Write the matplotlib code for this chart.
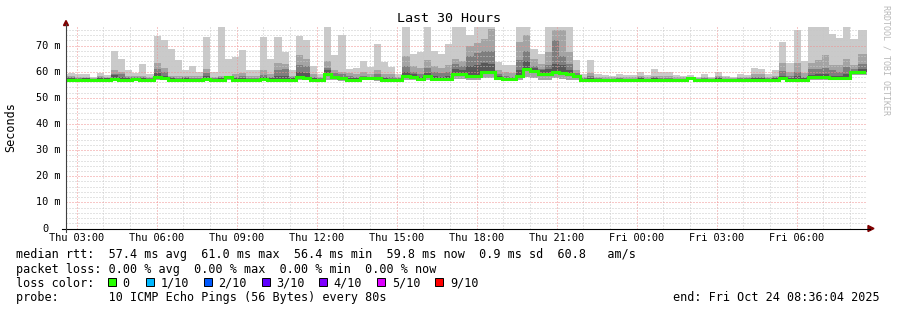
import matplotlib
matplotlib.use("Agg")
import matplotlib.pyplot as plt
from matplotlib.lines import Line2D
from matplotlib.patches import Polygon, Rectangle
import matplotlib.dates as mdates
import numpy as np
import pandas as pd

W, H = 897, 310

# --- data: 16-minute smokeping bins, values in ms -------------------------
bin_start = pd.date_range("2025-10-23 02:25", periods=114, freq="16min")

rtt_max = [
    59.3, 59.5, 59.0, 59.0, 58.0, 59.5, 58.6, 68.1, 65.0, 60.5,
    59.5, 62.8, 59.2, 73.5, 72.3, 68.5, 64.3, 60.5, 62.0, 60.0,
    73.1, 59.8, 77.0, 64.9, 65.8, 68.3, 60.5, 60.8, 73.1, 65.0,
    73.4, 67.6, 60.5, 73.8, 72.2, 62.1, 59.0, 77.0, 66.3, 74.2,
    61.0, 61.5, 64.0, 61.7, 70.6, 63.7, 61.7, 59.2, 77.0, 66.8,
    67.5, 77.0, 68.0, 66.8, 70.6, 77.0, 77.0, 74.0, 77.0, 77.0,
    77.0, 63.7, 62.5, 62.4, 77.0, 77.0, 68.7, 66.8, 77.0, 77.0,
    77.0, 77.0, 64.5, 59.2, 64.3, 59.2, 58.7, 58.5, 59.3, 58.7,
    58.9, 60.0, 58.7, 60.9, 60.0, 60.0, 58.7, 58.4, 58.7, 58.0,
    59.3, 57.8, 60.0, 58.4, 58.0, 59.0, 58.7, 61.3, 60.9, 59.2,
    60.5, 71.4, 63.4, 76.1, 64.0, 77.0, 77.0, 77.0, 74.6, 72.7,
    77.0, 72.5, 75.8, 75.8,
]
rtt_q9 = [
    58.3, 58.3, 58.0, 58.0, 57.6, 58.3, 58.0, 60.8, 60.0, 58.5,
    58.2, 58.5, 58.0, 63.5, 61.5, 58.5, 58.3, 58.5, 58.3, 58.3,
    61.0, 58.0, 58.5, 58.5, 59.0, 59.5, 58.3, 58.3, 60.5, 59.0,
    63.5, 63.0, 58.5, 66.5, 65.0, 59.0, 58.0, 64.0, 60.5, 60.0,
    59.5, 59.0, 60.0, 59.0, 60.5, 59.0, 59.0, 58.0, 66.0, 62.0,
    61.5, 64.5, 62.0, 61.5, 62.5, 65.0, 64.0, 70.0, 71.0, 72.5,
    76.5, 60.5, 60.0, 59.5, 71.5, 74.0, 65.0, 63.0, 67.5, 76.0,
    76.0, 67.5, 60.5, 58.0, 59.5, 58.0, 57.8, 57.8, 58.0, 57.8,
    57.8, 58.5, 57.8, 58.5, 58.3, 58.3, 57.8, 57.8, 58.0, 57.5,
    58.0, 57.5, 58.5, 57.8, 57.5, 58.0, 58.0, 59.0, 59.0, 58.0,
    58.5, 63.5, 60.0, 63.5, 59.5, 63.5, 64.5, 66.5, 62.5, 62.5,
    65.0, 62.5, 66.8, 66.8,
]
rtt_q8 = [
    57.8, 57.8, 57.6, 57.6, 57.3, 57.8, 57.6, 59.3, 59.0, 57.8,
    57.8, 57.8, 57.6, 61.0, 60.0, 57.8, 57.6, 57.8, 57.6, 57.6,
    59.5, 57.6, 57.8, 58.3, 58.0, 58.3, 57.6, 57.6, 58.8, 58.0,
    60.5, 61.0, 57.8, 62.5, 62.0, 58.0, 57.6, 61.5, 59.5, 59.0,
    58.3, 58.0, 58.5, 58.0, 59.0, 58.0, 58.0, 57.5, 62.0, 60.0,
    59.0, 61.5, 60.0, 59.5, 60.0, 63.0, 62.0, 66.0, 67.0, 68.0,
    68.0, 59.0, 58.5, 58.0, 64.5, 68.0, 62.0, 61.0, 62.5, 72.0,
    66.0, 63.0, 59.5, 57.5, 58.5, 57.4, 57.3, 57.3, 57.5, 57.3,
    57.3, 57.8, 57.3, 57.8, 57.6, 57.6, 57.3, 57.3, 57.8, 57.2,
    57.5, 57.2, 57.8, 57.3, 57.2, 57.5, 57.5, 58.0, 58.0, 57.5,
    57.8, 60.3, 58.5, 60.0, 58.0, 61.0, 61.0, 61.5, 60.5, 60.0,
    61.7, 61.0, 63.0, 63.0,
]
rtt_q7 = [
    57.4, 57.4, 57.3, 57.4, 57.1, 57.4, 57.4, 58.7, 57.8, 57.4,
    57.6, 57.4, 57.3, 59.5, 58.5, 57.4, 57.3, 57.4, 57.3, 57.3,
    58.3, 57.3, 57.5, 58.2, 57.4, 57.6, 57.3, 57.3, 57.8, 57.4,
    58.5, 58.5, 57.4, 60.0, 59.5, 57.4, 57.3, 60.5, 58.5, 58.0,
    57.5, 57.4, 58.0, 57.6, 58.0, 57.4, 57.3, 57.3, 60.0, 59.0,
    58.0, 59.5, 58.5, 58.0, 58.5, 61.0, 60.5, 62.0, 62.5, 63.5,
    63.0, 58.3, 57.6, 57.5, 60.5, 64.0, 61.5, 60.5, 61.0, 63.0,
    62.5, 60.5, 58.8, 57.3, 57.5, 57.2, 57.2, 57.2, 57.3, 57.2,
    57.2, 57.4, 57.2, 57.4, 57.3, 57.3, 57.2, 57.2, 57.6, 57.1,
    57.3, 57.1, 57.4, 57.2, 57.1, 57.3, 57.3, 57.5, 57.5, 57.3,
    57.4, 58.2, 57.6, 58.5, 57.5, 58.8, 59.0, 59.0, 58.5, 58.3,
    59.0, 59.0, 61.0, 61.0,
]
rtt_median = [
    57.0, 57.0, 56.9, 57.0, 56.8, 57.0, 57.0, 57.2, 56.9, 57.0,
    57.2, 57.0, 57.0, 57.9, 57.6, 57.0, 56.9, 57.0, 57.0, 57.0,
    57.3, 57.0, 57.0, 57.8, 56.8, 57.0, 57.0, 57.0, 57.1, 57.0,
    57.0, 57.0, 57.0, 58.1, 57.6, 57.0, 57.0, 59.1, 57.9, 57.6,
    57.0, 57.0, 57.5, 57.5, 57.4, 57.0, 57.0, 57.0, 58.5, 58.0,
    57.3, 58.3, 57.3, 57.3, 57.3, 59.2, 59.2, 58.3, 58.3, 59.9,
    59.9, 57.7, 57.1, 57.1, 58.5, 61.0, 60.3, 59.1, 59.1, 60.0,
    59.6, 59.2, 58.3, 57.0, 56.9, 56.9, 57.0, 56.9, 56.9, 57.0,
    56.9, 57.0, 56.9, 57.0, 56.9, 56.9, 57.0, 56.9, 57.4, 56.9,
    56.9, 57.0, 56.9, 56.9, 56.9, 57.0, 56.9, 57.0, 56.9, 57.0,
    56.9, 57.4, 57.0, 57.0, 57.0, 57.8, 58.0, 58.0, 57.5, 57.5,
    57.5, 59.8, 59.8, 59.8,
]
rtt_min = [
    56.4, 56.4, 56.3, 56.4, 56.2, 56.4, 56.4, 56.5, 56.3, 56.4,
    56.5, 56.4, 56.4, 56.8, 56.7, 56.4, 56.3, 56.4, 56.4, 56.4,
    56.6, 56.4, 56.4, 56.8, 56.2, 56.4, 56.4, 56.4, 56.5, 56.4,
    56.4, 56.4, 56.4, 56.9, 56.7, 56.4, 56.4, 57.0, 56.8, 56.6,
    56.4, 56.4, 56.7, 56.7, 56.6, 56.4, 56.4, 56.4, 57.0, 56.8,
    56.6, 57.0, 56.6, 56.6, 56.6, 57.2, 57.2, 56.9, 56.9, 57.4,
    57.4, 56.9, 56.5, 56.5, 57.0, 57.8, 57.6, 57.0, 57.0, 57.5,
    57.3, 57.0, 56.8, 56.4, 56.3, 56.3, 56.4, 56.3, 56.3, 56.4,
    56.3, 56.4, 56.3, 56.4, 56.3, 56.3, 56.4, 56.3, 56.7, 56.3,
    56.3, 56.4, 56.3, 56.3, 56.3, 56.4, 56.3, 56.4, 56.3, 56.4,
    56.3, 56.7, 56.4, 56.4, 56.4, 56.9, 57.0, 57.0, 56.8, 56.8,
    56.8, 58.6, 58.6, 58.6,
]

tick_times = pd.date_range("2025-10-23 03:00", periods=10, freq="3h")
tick_labels = ["Thu 03:00", "Thu 06:00", "Thu 09:00", "Thu 12:00", "Thu 15:00",
               "Thu 18:00", "Thu 21:00", "Fri 00:00", "Fri 03:00", "Fri 06:00"]
hour_times = pd.date_range("2025-10-23 03:00", "2025-10-24 08:00", freq="1h")
y_ticks = [0, 10, 20, 30, 40, 50, 60, 70]
y_labels = ["0", "10 m", "20 m", "30 m", "40 m", "50 m", "60 m", "70 m"]

t_start = pd.Timestamp("2025-10-23 02:36:04")
t_end = pd.Timestamp("2025-10-24 08:36:04")

legend_line1 = ("median rtt:  57.4 ms avg  61.0 ms max  56.4 ms min  "
                "59.8 ms now  0.9 ms sd  60.8   am/s")
legend_line2 = "packet loss: 0.00 % avg  0.00 % max  0.00 % min  0.00 % now"
legend_line4 = "probe:       10 ICMP Echo Pings (56 Bytes) every 80s"
loss_labels = ["0", "1/10", "2/10", "3/10", "4/10", "5/10", "9/10"]
loss_colors = ["#26ff00", "#00b8ff", "#0059ff", "#5e00ff", "#7e00ff", "#dd00ff", "#ff0000"]

# --- helpers ---------------------------------------------------------------
def fx(x):
    return x / W

def fy(y):
    return 1 - y / H

def ext(v):
    v = list(v)
    return np.array(v + [v[-1]])

edges = mdates.date2num(list(bin_start.to_pydatetime())
                        + [(bin_start[-1] + pd.Timedelta("16min")).to_pydatetime()])

MONO = "DejaVu Sans Mono"
plt.rcParams["font.family"] = MONO

fig = plt.figure(figsize=(W / 100, H / 100), dpi=100)
fig.patch.set_facecolor("white")

y0_px, y1_px = 228.5, 26.2
ax = fig.add_axes([fx(66), fy(y0_px), 800 / W, (y0_px - y1_px) / H])
ax.set_facecolor("white")

# smoke: lightest to darkest
ax.fill_between(edges, ext(rtt_min), ext(rtt_max), step="post", color="#cacaca", lw=0, zorder=1)
ax.fill_between(edges, ext(rtt_min), ext(rtt_q9), step="post", color="#a4a4a4", lw=0, zorder=1.1)
ax.fill_between(edges, ext(rtt_median), ext(rtt_q8), step="post", color="#7e7e7e", lw=0, zorder=1.2)
ax.fill_between(edges, ext(rtt_median), ext(rtt_q7), step="post", color="#585858", lw=0, zorder=1.3)
ax.step(edges, ext(rtt_median), where="post", color=loss_colors[0], lw=2.2, zorder=3,
        solid_joinstyle="miter")

ax.set_xlim(mdates.date2num(t_start.to_pydatetime()), mdates.date2num(t_end.to_pydatetime()))
ax.set_ylim(0, 77.4)

ax.set_xticks(mdates.date2num(list(tick_times.to_pydatetime())))
ax.set_xticklabels(tick_labels, fontsize=7.4, family=MONO)
ax.set_xticks(mdates.date2num(list(hour_times.to_pydatetime())), minor=True)
ax.set_yticks(y_ticks)
ax.set_yticks(np.arange(0, 77, 2), minor=True)
ax.set_yticklabels([])
ax.tick_params(which="both", length=0, pad=3.5)

ax.grid(which="minor", color="#c8c8c8", ls=(0, (1, 2)), lw=0.72)
ax.grid(which="major", color="#f09090", ls=(0, (1, 2)), lw=0.72)
ax.set_axisbelow(False)
for s in ax.spines.values():
    s.set_visible(False)

# y tick labels, right aligned next to axis
ytr = ax.get_yaxis_transform()
for v, lab in zip(y_ticks, y_labels):
    xoff = -18 / 800 if lab == "0" else -6 / 800
    ax.text(xoff, v, lab, transform=ytr, ha="right", va="center", fontsize=7.4, family=MONO)

# axes lines and arrows
fig.add_artist(Line2D([fx(62), fx(870)], [fy(228.5), fy(228.5)], color="black", lw=0.8))
fig.add_artist(Line2D([fx(66), fx(66)], [fy(232), fy(24)], color="#404040", lw=0.8))
fig.add_artist(Polygon([(fx(868), fy(225.5)), (fx(874), fy(228.5)), (fx(868), fy(231.5))],
                       closed=True, color="#7f0000", transform=fig.transFigure))
fig.add_artist(Polygon([(fx(63.5), fy(25.5)), (fx(66), fy(20.5)), (fx(68.5), fy(25.5))],
                       closed=True, color="#7f0000", transform=fig.transFigure))

# titles
fig.text(fx(448.5), fy(19), "Last 30 Hours", ha="center", va="center", fontsize=9.6, family=MONO)
fig.text(fx(11), fy(127), "Seconds", ha="center", va="center", rotation=90, fontsize=8.5, family=MONO)
fig.text(fx(886), fy(5), "RRDTOOL / TOBI OETIKER", ha="center", va="top", rotation=270,
         fontsize=6, family=MONO, color="#b8b8b8")

# legend
fs = 8.5
fig.text(fx(16), fy(258.3), legend_line1, ha="left", va="baseline", fontsize=fs, family=MONO)
fig.text(fx(16), fy(272.5), legend_line2, ha="left", va="baseline", fontsize=fs, family=MONO)
fig.text(fx(16), fy(286.7), "loss color:", ha="left", va="baseline", fontsize=fs, family=MONO)
box_x = [108, 145.7, 203.7, 261.7, 319.3, 377.3, 435.3]
for bx, lab, col in zip(box_x, loss_labels, loss_colors):
    fig.add_artist(Rectangle((fx(bx), fy(286)), 8 / W, 8 / H, facecolor=col,
                             edgecolor="black", lw=0.7, transform=fig.transFigure))
    fig.text(fx(bx + 14.5), fy(286.7), lab, ha="left", va="baseline", fontsize=fs, family=MONO)
fig.text(fx(16), fy(300.9), legend_line4, ha="left", va="baseline", fontsize=fs, family=MONO)
fig.text(fx(880), fy(300.9), "end: Fri Oct 24 08:36:04 2025", ha="right", va="baseline",
         fontsize=fs, family=MONO)

fig.savefig("out.png", dpi=100, facecolor="white")
